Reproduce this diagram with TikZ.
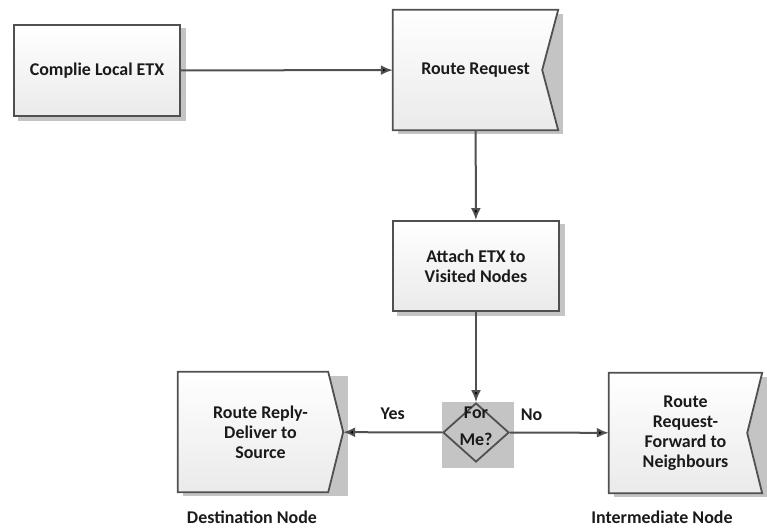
\documentclass[tikz,border=0pt]{standalone}
\usepackage{fontspec}
\setmainfont{Carlito}
\usetikzlibrary{shapes.geometric,arrows.meta,backgrounds}
\definecolor{edgegray}{HTML}{505050}
\definecolor{shadegray}{HTML}{C4C4C4}
\definecolor{boxtop}{HTML}{FFFFFF}
\definecolor{boxbottom}{HTML}{EAEAEA}
\definecolor{textdark}{HTML}{1A1A1A}
\begin{document}
\begin{tikzpicture}[x=1bp,y=-1bp]
        \tikzstyle{every node}=[font=\bfseries\fontsize{18}{20}\selectfont,text=textdark]
        \tikzstyle{process}=[rectangle,draw=edgegray,line width=1.8bp,top color=boxtop,bottom color=boxbottom,align=center,inner sep=0pt]
        \tikzstyle{holder}=[rectangle,align=center,inner sep=0pt]
        \tikzstyle{outline}=[draw=edgegray,line width=1.8bp,top color=boxtop,bottom color=boxbottom]
        \tikzstyle{decision}=[diamond,draw=edgegray,line width=1.8bp,fill=shadegray,inner sep=0pt,minimum width=66bp,minimum height=59bp]
        \tikzstyle{edge}=[draw=edgegray,line width=2bp,-{Latex[length=12bp,width=10bp]}]
        \useasboundingbox (0,0) rectangle (767,529);
       \begin{scope}
         \node [process,minimum width=166bp,minimum height=91bp] (compile) at (97,70.5) {Complie Local ETX};
         \node [holder,minimum width=165bp,minimum height=120bp] (request) at (475.5,70) {Route Request};
         \node [process,minimum width=166bp,minimum height=90bp] (attach) at (476,266) {Attach ETX to\\Visited Nodes};
         \node [decision] (forme) at (476,432.5) {};
         \node [align=center,inner sep=0pt] (formetext) at (476,426) {For\\[7bp]Me?};
         \node [holder,minimum width=165bp,minimum height=120bp] (reply) at (260.5,432) {Route Reply-\\Deliver to\\Source};
         \node [holder,minimum width=153bp,minimum height=120bp] (forward) at (685.5,433) {Route\\Request-\\Forward to\\Neighbours};
         \node (destination) at (252,517) {Destination Node};
         \node (intermediate) at (662,517) {Intermediate Node};
         % shadows and outlines behind the text
         \begin{scope}[on background layer]
           \foreach \n in {compile,request,attach,reply,forward}
             \fill[shadegray] ([shift={(5,4)}]\n.north west) rectangle ([shift={(5,4)}]\n.south east);
           \fill[shadegray] (forme.west |- forme.north) rectangle ([shift={(4,5)}]forme.east |- forme.south);
           \path[outline] (request.north west) -- (request.north east) -- ([xshift=-16bp]request.east) -- (request.south east) -- (request.south west) -- cycle;
           \path[outline] (forward.north west) -- (forward.north east) -- ([xshift=-15bp]forward.east) -- (forward.south east) -- (forward.south west) -- cycle;
           \path[outline] (reply.north west) -- ([xshift=-15bp]reply.north east) -- (reply.east) -- ([xshift=-15bp]reply.south east) -- (reply.south west) -- cycle;
         \end{scope}
         \path[edge] (compile) edge (request);
         \path[edge] (request) edge (attach);
         \path[edge] (attach) edge (forme);
         \path[edge] (forme) edge node[pos=0.5,above=8bp] {Yes} (reply);
         \path[edge] (forme) edge node[pos=0.22,above=8bp] {No} (forward);
        \end{scope}
      \end{tikzpicture}
\end{document}
